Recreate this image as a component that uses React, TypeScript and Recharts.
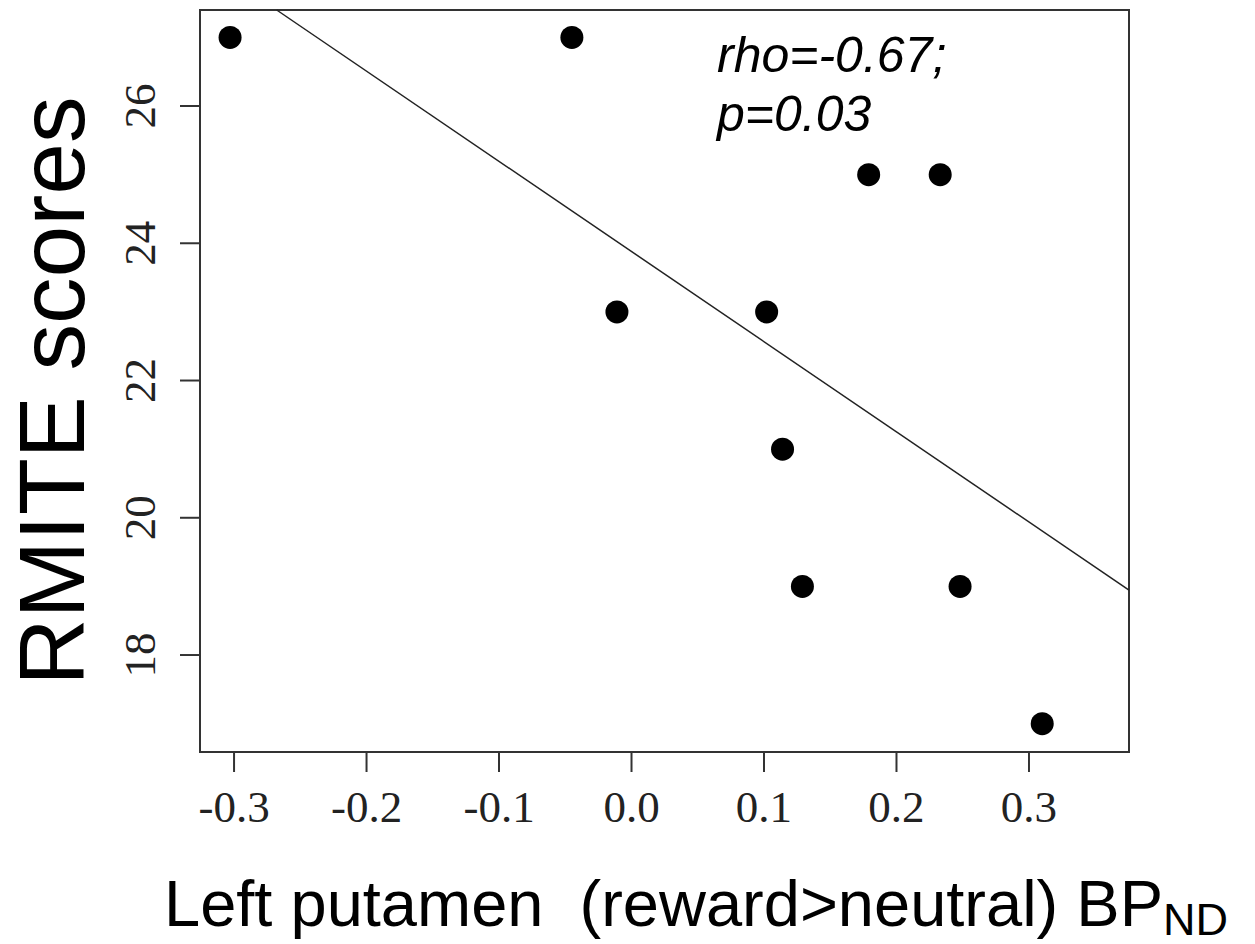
import {
  ScatterChart,
  Scatter,
  XAxis,
  YAxis,
  ReferenceLine,
  ReferenceArea,
} from 'recharts';

// BP_ND change (reward > neutral) in left putamen
const bpValues = [-0.303, -0.045, -0.011, 0.102, 0.179, 0.233, 0.114, 0.129, 0.248, 0.31];
// RMITE scores for the same subjects
const rmiteScores = [27, 27, 23, 23, 25, 25, 21, 19, 19, 17];

const xTicks = [-0.3, -0.2, -0.1, 0.0, 0.1, 0.2, 0.3];
const yTicks = [18, 20, 22, 24, 26];

const xDomain = [-0.3257, 0.3755];
const yDomain = [16.587, 27.399];

// fitted line y = intercept + slope * x
const fitSlope = -13.14;
const fitIntercept = 23.88;

const points = bpValues.map((x, i) => ({x, y: rmiteScores[i]}));

// clip the fit line to the plot box
const fitStartX = Math.max(xDomain[0], (yDomain[1] - fitIntercept) / fitSlope);
const fitEndX = Math.min(xDomain[1], (yDomain[0] - fitIntercept) / fitSlope);
const fitSegment = [
  {x: fitStartX, y: fitIntercept + fitSlope * fitStartX},
  {x: fitEndX, y: fitIntercept + fitSlope * fitEndX},
];

const serif = '"Liberation Serif", "Times New Roman", serif';
const sans = '"Liberation Sans", Arial, sans-serif';

const Dot = (props: any) => <circle cx={props.cx} cy={props.cy} r={11.5} fill="#000" />;

const YTick = (props: any) => {
  const {x, y, payload} = props;
  return (
    <text
      x={x}
      y={y}
      transform={`rotate(-90, ${x}, ${y})`}
      textAnchor="middle"
      fontFamily={serif}
      fontSize={45}
      fill="#222">
      {payload.value}
    </text>
  );
};

const YTitle = (props: any) => {
  const vb = props.viewBox || {x: 0, y: 0, height: 0};
  const cx = vb.x + 84;
  const cy = vb.y + vb.height / 2 + 10;
  return (
    <text
      x={cx}
      y={cy}
      transform={`rotate(-90, ${cx}, ${cy})`}
      textAnchor="middle"
      fontFamily={sans}
      fontSize={93}
      fill="#000">
      RMITE scores
    </text>
  );
};

const XTitle = (props: any) => {
  const vb = props.viewBox || {x: 0, y: 0};
  return (
    <text
      x={vb.x - 36}
      y={vb.y + 174}
      fontFamily={sans}
      fontSize={65}
      fill="#000"
      style={{whiteSpace: 'pre'}}>
      {'Left putamen  (reward>neutral) BP'}
      <tspan fontSize={45} dy={9}>
        ND
      </tspan>
    </text>
  );
};

const App = () => {
  return (
    <div style={{position: 'absolute', left: 0, top: 0, background: '#fff'}}>
      <ScatterChart
        width={1255}
        height={944}
        margin={{top: 10, right: 126, bottom: 0, left: 0}}>
        <XAxis
          type="number"
          dataKey="x"
          domain={xDomain}
          ticks={xTicks}
          allowDataOverflow
          height={192}
          tickSize={20}
          tickMargin={18}
          tickFormatter={(v: number) => v.toFixed(1)}
          tick={{fontFamily: serif, fontSize: 45, fill: '#222'}}
          axisLine={{stroke: '#333', strokeWidth: 2}}
          tickLine={{stroke: '#333', strokeWidth: 2}}
          label={<XTitle />}
        />
        <YAxis
          type="number"
          dataKey="y"
          domain={yDomain}
          ticks={yTicks}
          allowDataOverflow
          width={200}
          tickSize={20}
          tickMargin={25}
          tick={<YTick />}
          axisLine={{stroke: '#333', strokeWidth: 2}}
          tickLine={{stroke: '#333', strokeWidth: 2}}
          label={<YTitle />}
        />
        <ReferenceArea
          x1={xDomain[0]}
          x2={xDomain[1]}
          y1={yDomain[0]}
          y2={yDomain[1]}
          fill="none"
          fillOpacity={0}
          stroke="#333"
          strokeWidth={2}
        />
        <ReferenceLine segment={fitSegment} stroke="#222" strokeWidth={1.5} />
        <Scatter data={points} shape={<Dot />} isAnimationActive={false} />
        <text x={717} y={72} fontFamily={sans} fontStyle="italic" fontSize={50} fill="#000">
          rho=-0.67;
        </text>
        <text x={717} y={131} fontFamily={sans} fontStyle="italic" fontSize={50} fill="#000">
          p=0.03
        </text>
      </ScatterChart>
    </div>
  );
};

export default App;
